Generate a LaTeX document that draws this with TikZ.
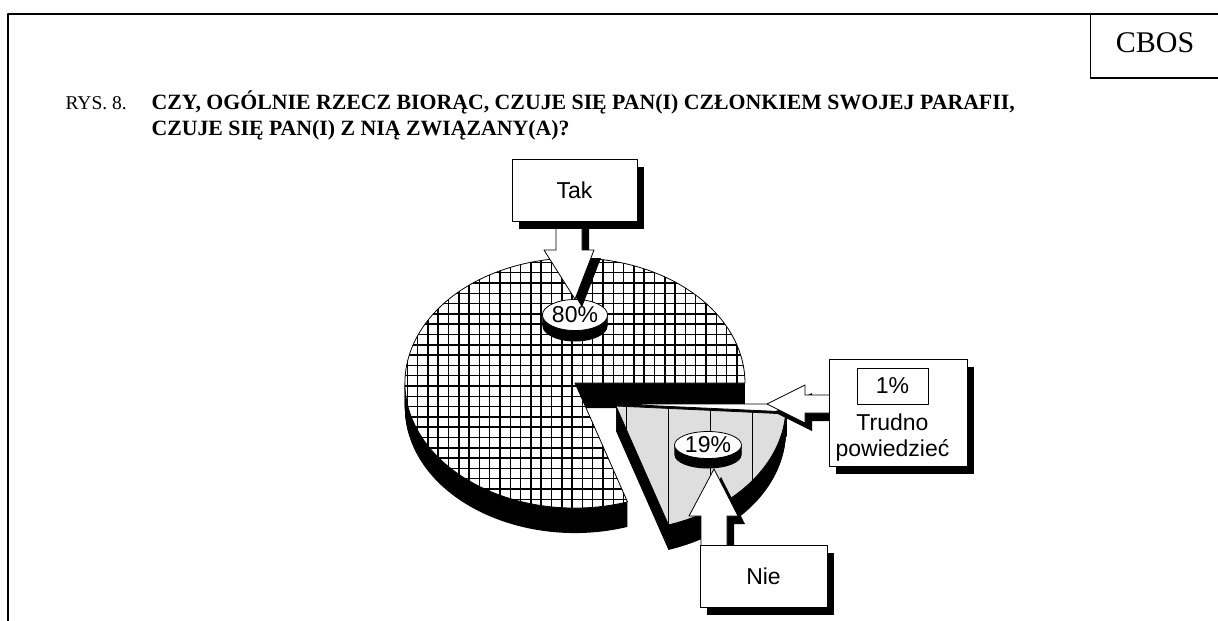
\documentclass[tikz,border=0pt]{standalone}
\usepackage{fontspec}
\setmainfont{Liberation Serif}
\newfontfamily\arialfont{Liberation Sans}
\usetikzlibrary{shapes, shadows, positioning}

\tikzset{
  labfont/.style={font=\arialfont\fontsize{23}{26}\selectfont},
  labbox/.style={draw, fill=white, line width=0.8pt, inner sep=0pt, labfont,
    drop shadow={shadow xshift=7pt, shadow yshift=-8pt, fill=black, opacity=1}},
  blockarrow/.style={draw, fill=white, line width=0.8pt,
    drop shadow={shadow xshift=7pt, shadow yshift=-8pt, fill=black, opacity=1}},
  pctlabel/.style={ellipse, draw, fill=white, line width=0.8pt, inner sep=0pt, labfont},
  bigslice/.style={insert path={(575,383) -- ++(52.5,118.9)
    arc[start angle=72, end angle=360, x radius=170, y radius=125] -- cycle}},
  nieslice/.style={insert path={(616,406) -- ++(52.5,118.9)
    arc[start angle=72, end angle=3.6, x radius=170, y radius=125] -- cycle}},
  trudslice/.style={insert path={(617,404) -- ++(170,0)
    arc[start angle=0, end angle=3.6, x radius=170, y radius=125] -- cycle}}
}

\begin{document}
\begin{tikzpicture}[x=1pt, y=-1pt, line join=round]
  \useasboundingbox (0,0) rectangle (1218,621);

  % frame and header
  \draw[line width=2.7pt] (8,621) -- (8,14) -- (1218,14);
  \draw[line width=0.8pt] (1090,14) -- (1090,78);
  \draw[line width=2.7pt] (1090,78) -- (1218,78);
  \node[font=\fontsize{30}{34}\selectfont] (cbos) at (1155,43) {CBOS};
  \node[anchor=base west, font=\fontsize{19.5}{22}\selectfont] (rys) at (62,109) {RYS. 8.};
  \node[anchor=base west, font=\fontsize{21.8}{24}\selectfont\bfseries] (q1) at (148,109)
    {CZY, OGÓLNIE RZECZ BIORĄC, CZUJE SIĘ PAN(I) CZŁONKIEM SWOJEJ PARAFII,};
  \node[anchor=base west, font=\fontsize{21.8}{24}\selectfont\bfseries] (q2) at (148,135)
    {CZUJE SIĘ PAN(I) Z NIĄ ZWIĄZANY(A)?};

  % big slice (80%)
  \foreach \k in {1,...,25}
    \fill[black, shift={(0,\k)}, bigslice];
  \fill[white, bigslice];
  \begin{scope}
    \clip[bigslice];
    \foreach \g in {0,...,34}
      \draw[line width=1.5pt] ({407.3+10.3*\g},250) -- ++(0,270);
    \foreach \g in {-14,...,12}
      \draw[line width=1.5pt] (400,{386+10.3*\g}) -- ++(360,0);
  \end{scope}
  \draw[line width=0.8pt, bigslice];

  % exploded slices (19% and 1%)
  \foreach \k in {1,...,25} {
    \fill[black, shift={(0,\k)}, nieslice];
    \fill[black, shift={(0,\k)}, trudslice];
  }
  \fill[black!13, nieslice];
  \begin{scope}
    \clip[nieslice];
    \foreach \gx in {626,668,710,752}
      \draw[line width=0.6pt] (\gx,400) -- ++(0,130);
  \end{scope}
  \draw[line width=0.8pt, nieslice];
  \filldraw[fill=white, line width=0.8pt, trudslice];

  % percent labels
  \foreach \k in {1,...,11}
    \fill (575,{315+\k}) ellipse[x radius=32.5, y radius=15.5];
  \node[pctlabel, minimum width=65, minimum height=31] (p80) at (575,315) {80\%};
  \foreach \k in {1,...,10}
    \fill (708,{445+\k}) ellipse[x radius=33.5, y radius=13.5];
  \node[pctlabel, minimum width=67, minimum height=27] (p19) at (708,445) {19\%};

  % callout arrows
  \draw[blockarrow] (556,215) -- (556,250) -- (544,250) -- (p80.north)
    -- (594,250) -- (582,250) -- (582,215) -- cycle;
  \draw[blockarrow] (701,550) -- (701,516) -- (689,516) -- (714,469)
    -- (738,516) -- (727,516) -- (727,550) -- cycle;
  \draw[blockarrow] (835,395) -- (805,395) -- (805,385) -- (767,404)
    -- (805,423) -- (805,413) -- (835,413) -- cycle;

  % callout boxes
  \node[labbox, minimum width=125, minimum height=62] (tak) at (574.5,190) {Tak};
  \node[labbox, minimum width=127, minimum height=62] (nie) at (763.5,576) {Nie};
  \node[labbox, minimum width=138, minimum height=107] (trud) at (898,412.5) {};
  \node[draw, line width=0.6pt, minimum width=71, minimum height=36, inner sep=0pt, labfont]
    (p1) at (892.5,386) {1\%};
  \node[below=9pt of p1, align=center, inner sep=0pt, labfont] (trudtxt) {Trudno\\powiedzieć};
\end{tikzpicture}
\end{document}
